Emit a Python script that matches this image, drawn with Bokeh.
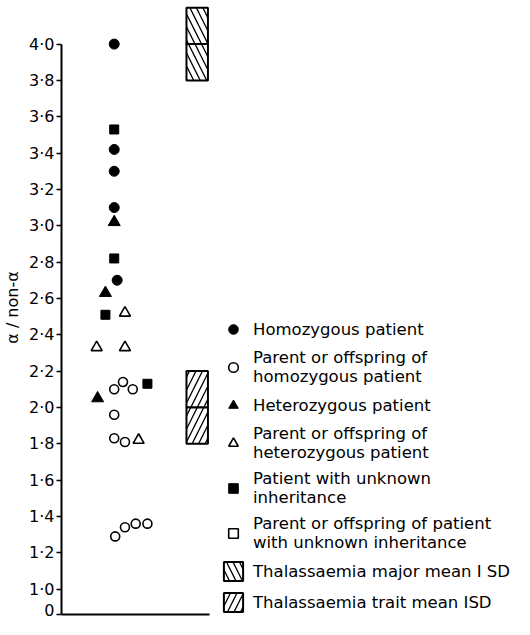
from bokeh.plotting import figure
from bokeh.models import FixedTicker, Legend, LegendItem, Range1d
from bokeh.embed import file_html
from bokeh.resources import INLINE

# ---- data (x = horizontal jitter offset within the single column) ----
homo_x = [0.0, 0.0, 0.0, 0.0, 0.3]
homo_y = [4.00, 3.42, 3.30, 3.10, 2.70]

par_homo_x = [0.0, 0.9, 1.9, 0.0, 0.0, 1.1, 0.1, 1.1, 2.2, 3.4]
par_homo_y = [2.10, 2.14, 2.10, 1.96, 1.83, 1.81, 1.29, 1.34, 1.36, 1.36]

het_x = [0.0, -0.9, -1.7]
het_y = [3.02, 2.63, 2.05]

par_het_x = [1.1, -1.8, 1.1, 2.5]
par_het_y = [2.52, 2.33, 2.33, 1.82]

unk_x = [0.0, 0.0, -0.9, 3.4]
unk_y = [3.53, 2.82, 2.51, 2.13]

# no points of this group appear in the chart (legend entry only)
par_unk_x = []
par_unk_y = []

thal_names = ["Thalassaemia major mean I SD", "Thalassaemia trait mean ISD"]
thal_mean = [4.0, 2.0]
thal_sd = [0.2, 0.2]
box_x = 8.5
box_half = 1.1

Y_BOTTOM = 0.86  # position of the broken-axis "0"
ytick_vals = [Y_BOTTOM, 1.0, 1.2, 1.4, 1.6, 1.8, 2.0, 2.2, 2.4, 2.6, 2.8, 3.0, 3.2, 3.4, 3.6, 3.8, 4.0]
ytick_text = ["0", "1·0", "1·2", "1·4", "1·6", "1·8", "2·0", "2·2", "2·4", "2·6", "2·8",
              "3·0", "3·2", "3·4", "3·6", "3·8", "4·0"]

FONT = "DejaVu Sans"
NAN = float("nan")

p = figure(width=514, height=619, output_backend="svg", toolbar_location=None,
           x_range=Range1d(-5.4, 41.0), y_range=Range1d(Y_BOTTOM, 4.24),
           min_border_left=50, min_border_top=0, min_border_bottom=5, min_border_right=0)
p.outline_line_color = None
p.grid.visible = False
p.background_fill_color = "white"

# y axis
p.yaxis.ticker = FixedTicker(ticks=ytick_vals)
p.yaxis.major_label_overrides = {v: t for v, t in zip(ytick_vals, ytick_text)}
p.yaxis.bounds = (Y_BOTTOM, 4.0)
p.yaxis.axis_line_width = 2
p.yaxis.axis_line_color = "black"
p.yaxis.major_tick_line_width = 1.5
p.yaxis.major_tick_out = 5
p.yaxis.major_tick_in = 0
p.yaxis.minor_tick_line_color = None
p.yaxis.major_label_text_font = FONT
p.yaxis.major_label_text_font_size = "16px"
p.yaxis.major_label_text_color = "black"
p.yaxis.major_label_standoff = 2
p.yaxis.axis_label = "α / non-α"
p.yaxis.axis_label_text_font = FONT
p.yaxis.axis_label_text_font_size = "16px"
p.yaxis.axis_label_text_font_style = "normal"
p.yaxis.axis_label_text_color = "black"
p.yaxis.axis_label_standoff = 4

# x axis: only a line
p.xaxis.bounds = (-5.4, 9.8)
p.xaxis.ticker = FixedTicker(ticks=[])
p.xaxis.axis_line_width = 2
p.xaxis.axis_line_color = "black"
p.xaxis.major_tick_line_color = None
p.xaxis.minor_tick_line_color = None
p.xaxis.major_label_standoff = 0
p.xaxis.major_tick_out = 0

# data points
r_homo = p.scatter(homo_x, homo_y, marker="circle", size=10, fill_color="black", line_color="black")
r_phomo = p.scatter(par_homo_x, par_homo_y, marker="circle", size=9, fill_color="white",
                    line_color="black", line_width=1.6)
r_het = p.scatter(het_x, het_y, marker="triangle", size=12, fill_color="black", line_color="black")
r_phet = p.scatter(par_het_x, par_het_y, marker="triangle", size=11, fill_color="white",
                   line_color="black", line_width=1.6)
r_unk = p.scatter(unk_x, unk_y, marker="square", size=9, fill_color="black", line_color="black")
r_punk = p.scatter(par_unk_x or [NAN], par_unk_y or [NAN], marker="square", size=9,
                   fill_color="white", line_color="black", line_width=1.6)

# thalassaemia mean ± SD boxes (upper and lower halves)
patterns = ["\\", "/"]
box_renderers = []
for m, s, pat in zip(thal_mean, thal_sd, patterns):
    r = p.quad(left=[box_x - box_half] * 2, right=[box_x + box_half] * 2,
               top=[m + s, m], bottom=[m, m - s],
               fill_color="white", line_color="black", line_width=2,
               hatch_pattern=pat, hatch_color="black", hatch_scale=13, hatch_weight=1.3)
    box_renderers.append(r)

items = [
    LegendItem(label="Homozygous patient", renderers=[r_homo]),
    LegendItem(label="Parent or offspring of\nhomozygous patient", renderers=[r_phomo]),
    LegendItem(label="Heterozygous patient", renderers=[r_het]),
    LegendItem(label="Parent or offspring of\nheterozygous patient", renderers=[r_phet]),
    LegendItem(label="Patient with unknown\ninheritance", renderers=[r_unk]),
    LegendItem(label="Parent or offspring of patient\nwith unknown inheritance", renderers=[r_punk]),
    LegendItem(label=thal_names[0], renderers=[box_renderers[0]]),
    LegendItem(label=thal_names[1], renderers=[box_renderers[1]]),
]
legend = Legend(items=items, location=(160, 0), orientation="vertical",
                glyph_width=24, glyph_height=24, label_standoff=8, spacing=7,
                padding=0, margin=0, border_line_color=None, background_fill_alpha=0,
                label_text_font=FONT, label_text_font_size="16.5px", label_text_color="black",
                label_text_line_height=1.3)
p.add_layout(legend)

open("out.html", "w").write(file_html(p, INLINE))
